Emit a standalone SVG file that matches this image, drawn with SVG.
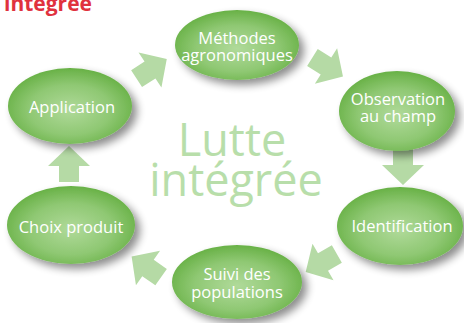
<svg xmlns="http://www.w3.org/2000/svg" width="464" height="323" viewBox="0 0 464 323">
<defs>
<radialGradient id="g" cx="50%" cy="55%" r="55%">
<stop offset="0" stop-color="#b0da9a"/>
<stop offset="0.6" stop-color="#8fc873"/>
<stop offset="1" stop-color="#68b146"/>
</radialGradient>
<filter id="sh" x="-20%" y="-20%" width="150%" height="150%">
<feGaussianBlur in="SourceAlpha" stdDeviation="4"/>
<feOffset dx="5" dy="5" result="b"/>
<feComponentTransfer><feFuncA type="linear" slope="0.45"/></feComponentTransfer>
<feMerge><feMergeNode/><feMergeNode in="SourceGraphic"/></feMerge>
</filter>
<path id="arr" d="M-16,-10 L0,-10 L0,-21 L20,0 L0,21 L0,10 L-16,10 Z"/>
</defs>
<style>
.n{fill:url(#g);filter:url(#sh)}
.t{font-family:"Open Sans","Noto Sans",sans-serif;font-size:16.5px;fill:#fff;text-anchor:middle}
.a{fill:#b5daa5}
.big{font-family:"Open Sans","Noto Sans",sans-serif;font-size:45px;fill:#b8deaa;text-anchor:middle}
</style>
<rect width="464" height="323" fill="#fff"/>
<text x="4" y="11" font-family="'Open Sans','Noto Sans',sans-serif" font-weight="bold" font-size="21" fill="#e0323e">intégrée</text>
<text class="big" x="232" y="156">Lutte</text>
<text class="big" x="236" y="196">intégrée</text>
<g id="connectors">
<use href="#arr" class="a" transform="translate(150,70) rotate(-33)"/>
<use href="#arr" class="a" transform="translate(326,66) rotate(32)"/>
<use href="#arr" class="a" transform="translate(403,165) rotate(90)"/>
<use href="#arr" class="a" transform="translate(323,262) rotate(150)"/>
<use href="#arr" class="a" transform="translate(148,268) rotate(-145)"/>
<use href="#arr" class="a" transform="translate(69,166) rotate(-90)"/>
</g>
<g id="methodes"><ellipse class="n" cx="237" cy="45" rx="62" ry="35"/><text class="t" x="237" y="44">Méthodes</text><text class="t" x="237" y="61">agronomiques</text></g>
<g id="observation"><ellipse class="n" cx="397" cy="111" rx="58" ry="40"/><text class="t" x="398" y="105">Observation</text><text class="t" x="398" y="122">au champ</text></g>
<g id="identification"><ellipse class="n" cx="400" cy="226" rx="63" ry="39"/><text class="t" x="402" y="232">Identification</text></g>
<g id="suivi"><ellipse class="n" cx="237" cy="282" rx="65" ry="37"/><text class="t" x="237" y="280">Suivi des</text><text class="t" x="237" y="298">populations</text></g>
<g id="choix"><ellipse class="n" cx="71" cy="225" rx="64" ry="39"/><text class="t" x="71" y="233">Choix produit</text></g>
<g id="application"><ellipse class="n" cx="70" cy="106" rx="62" ry="38"/><text class="t" x="72" y="113">Application</text></g>
</svg>
